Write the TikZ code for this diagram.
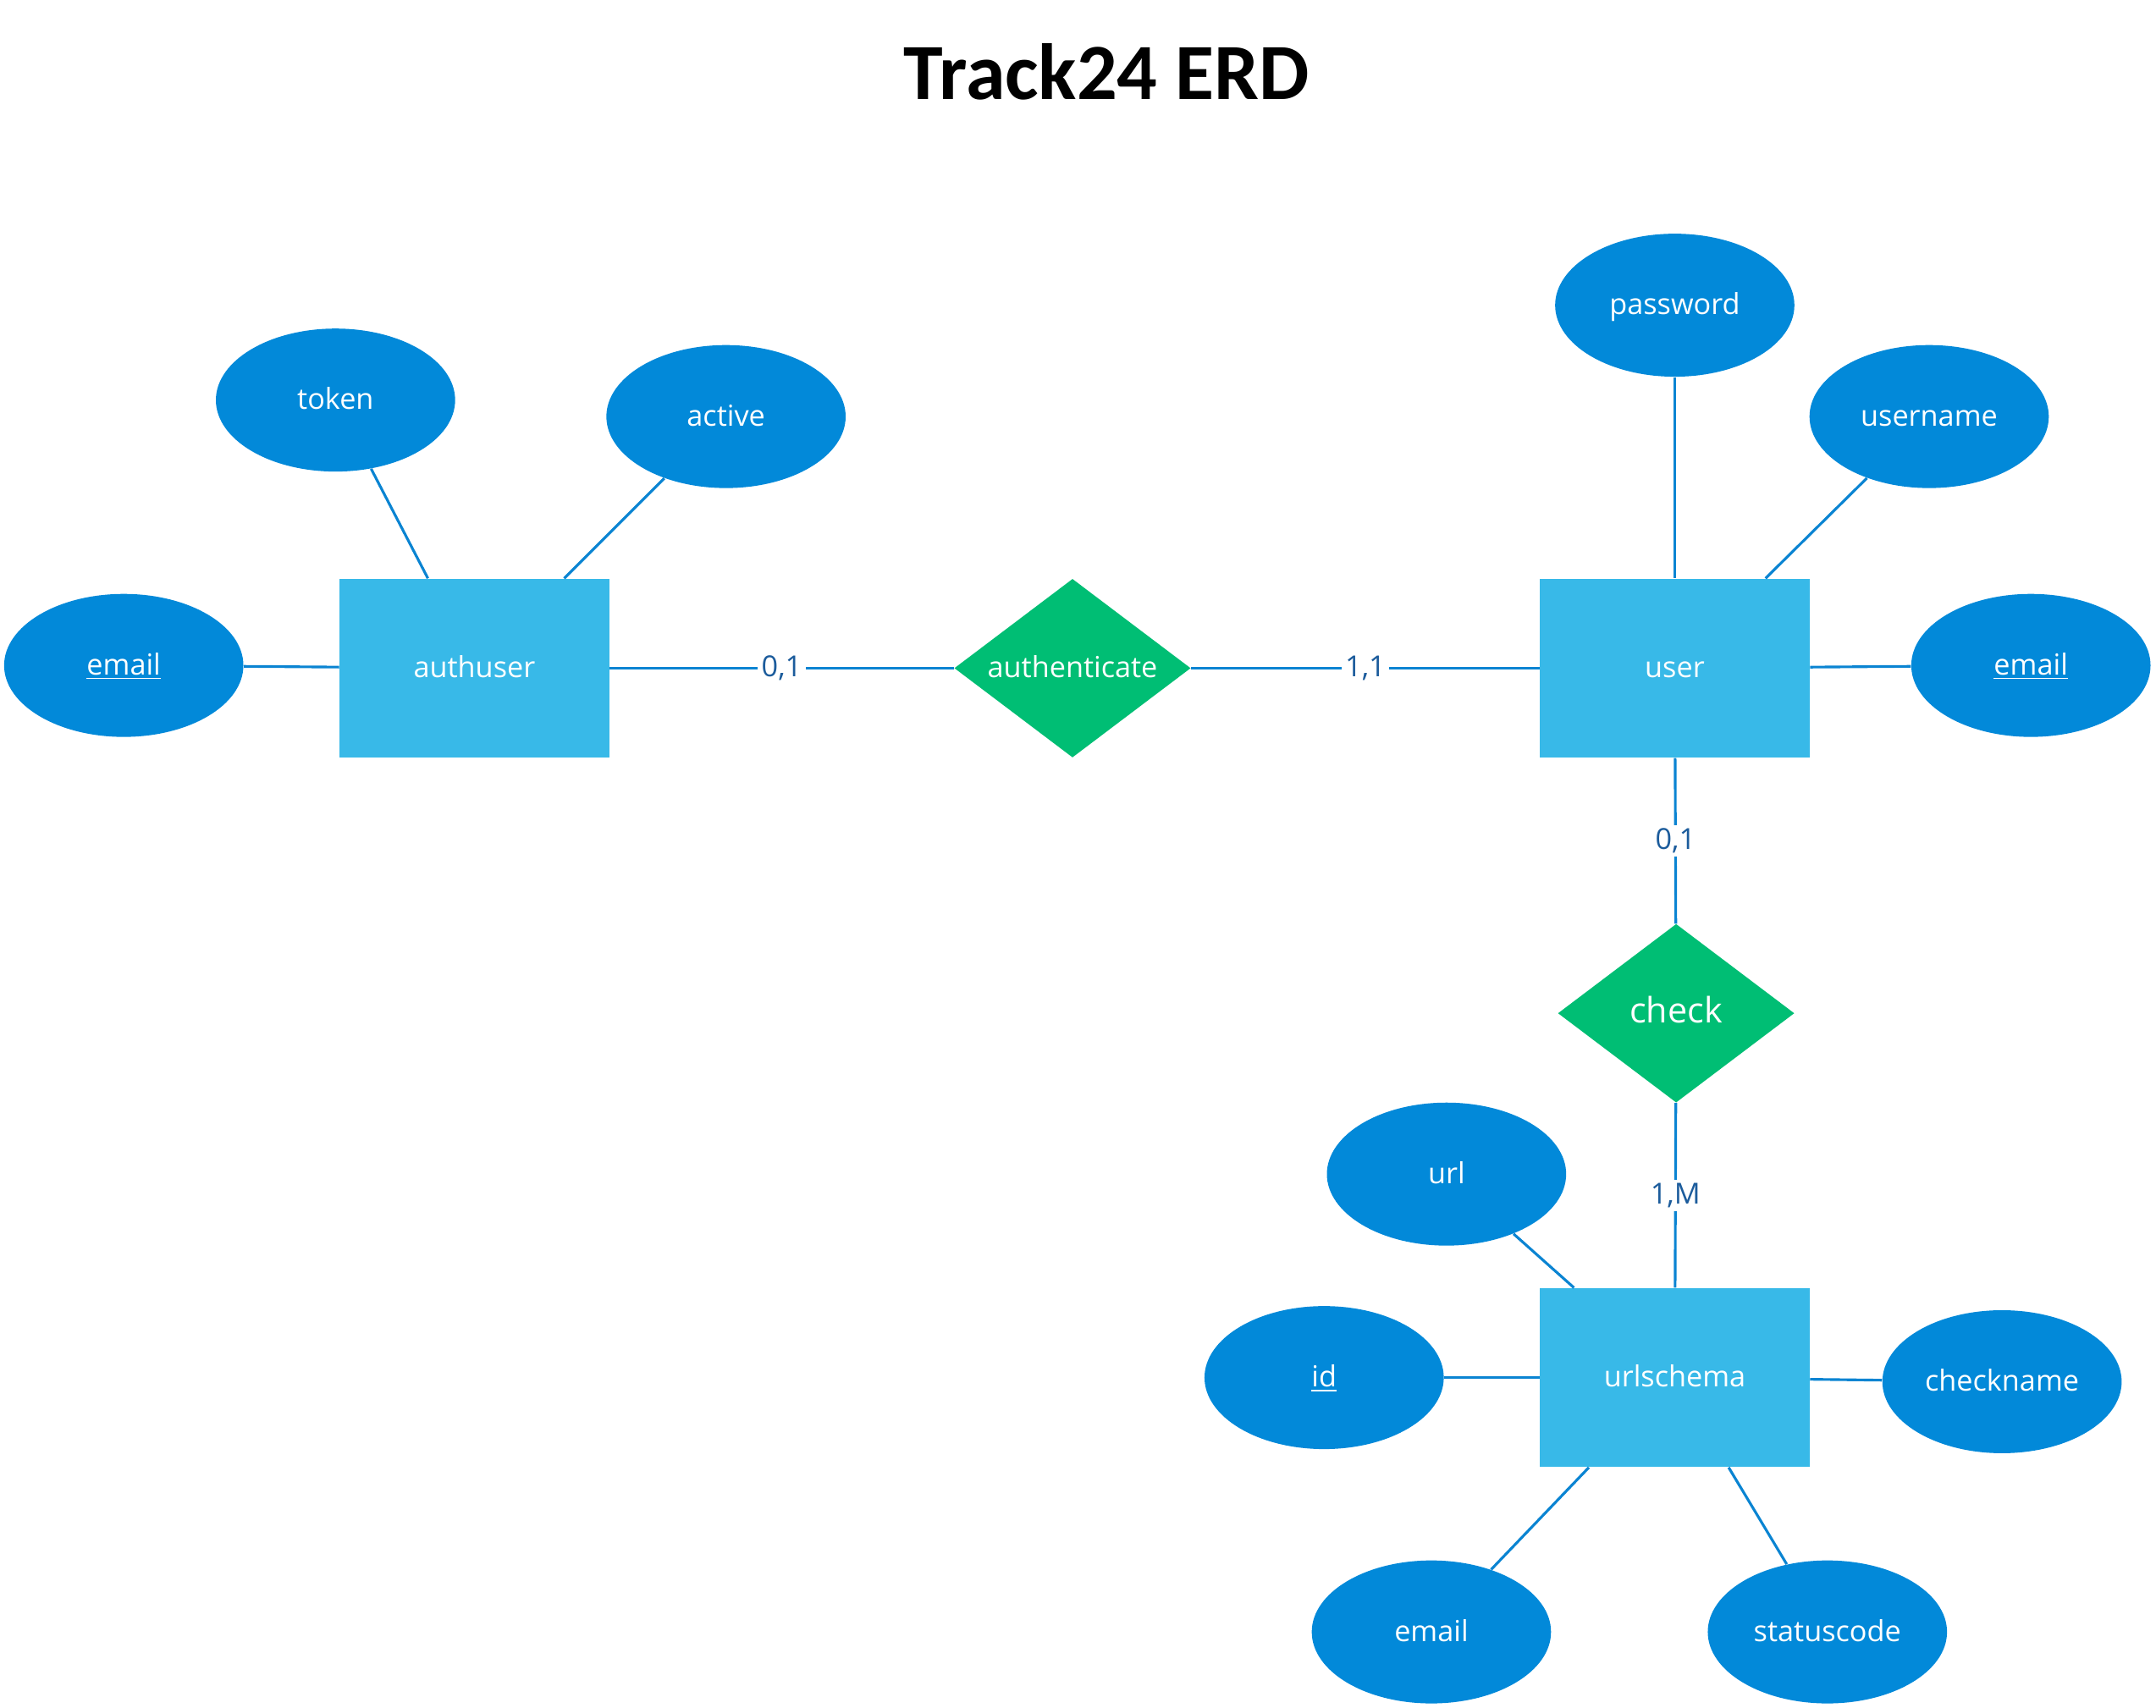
\documentclass[tikz,border=0pt]{standalone}
\usepackage{fontspec}
\usepackage{tikz}
\usetikzlibrary{shapes.geometric}
\newfontfamily\labelfont{Open Sans}
\newfontfamily\titlefont{Carlito}
\definecolor{attrfill}{HTML}{0289D9}
\definecolor{entityfill}{HTML}{38B9E8}
\definecolor{relfill}{HTML}{00BE74}
\definecolor{linkblue}{HTML}{0A84D2}
\definecolor{cardblue}{HTML}{1C5C9C}

\begin{document}
\begin{tikzpicture}[x=0.2mm,y=-0.2mm,
  entity/.style={rectangle,fill=entityfill,text=white,minimum width=3.92cm,minimum height=2.6cm,inner sep=0pt,text height=1.8ex,text depth=0pt,font=\labelfont\fontsize{12}{14}\selectfont},
  attr/.style={ellipse,fill=attrfill,text=white,minimum width=3.48cm,minimum height=2.08cm,inner sep=0pt,text height=1.8ex,text depth=0pt,font=\labelfont\fontsize{12}{14}\selectfont},
  rel/.style={diamond,fill=relfill,text=white,aspect=1.32,minimum width=3.44cm,minimum height=2.6cm,inner sep=0pt,text height=1.8ex,text depth=0pt,font=\labelfont\fontsize{12}{14}\selectfont},
  link/.style={draw=linkblue,line width=1.1pt},
  card/.style={fill=white,text=cardblue,inner sep=1.5pt,font=\labelfont\fontsize{12}{14}\selectfont}
]
\useasboundingbox (0,0) rectangle (1568,1242);

\node[font=\titlefont\bfseries\fontsize{33}{38}\selectfont] (title) at (805,52) {Track24 ERD};

% entities
\node[entity] (authuser) at (345,486) {authuser};
\node[entity] (user) at (1218,486) {user};
\node[entity] (urlschema) at (1218,1002) {urlschema};

% relationships
\node[rel] (authenticate) at (780,486) {authenticate};
\node[rel,font=\labelfont\fontsize{14.5}{17}\selectfont] (check) at (1219,737) {check};

% attributes
\node[attr] (token) at (244,291) {token};
\node[attr] (active) at (528,303) {active};
\node[attr] (emailA) at (90,484) {\underline{email}};
\node[attr] (password) at (1218,222) {password};
\node[attr] (username) at (1403,303) {username};
\node[attr] (emailU) at (1477,484) {\underline{email}};
\node[attr] (url) at (1052,854) {url};
\node[attr] (id) at (963,1002) {\underline{id}};
\node[attr] (checkname) at (1456,1005) {checkname};
\node[attr] (emailS) at (1041,1187) {email};
\node[attr] (statuscode) at (1329,1187) {statuscode};

% attribute links
\draw[link] (token) -- (authuser);
\draw[link] (active) -- (authuser);
\draw[link] (emailA) -- (authuser);
\draw[link] (password) -- (user);
\draw[link] (username) -- (user);
\draw[link] (emailU) -- (user);
\draw[link] (url) -- (urlschema);
\draw[link] (id) -- (urlschema);
\draw[link] (checkname) -- (urlschema);
\draw[link] (emailS) -- (urlschema);
\draw[link] (statuscode) -- (urlschema);

% relationship links
\draw[link] (authuser) -- node[card] {0,1} (authenticate);
\draw[link] (authenticate) -- node[card] {1,1} (user);
\draw[link] (user) -- node[card] {0,1} (check);
\draw[link] (check) -- node[card] {1,M} (urlschema);
\end{tikzpicture}
\end{document}
